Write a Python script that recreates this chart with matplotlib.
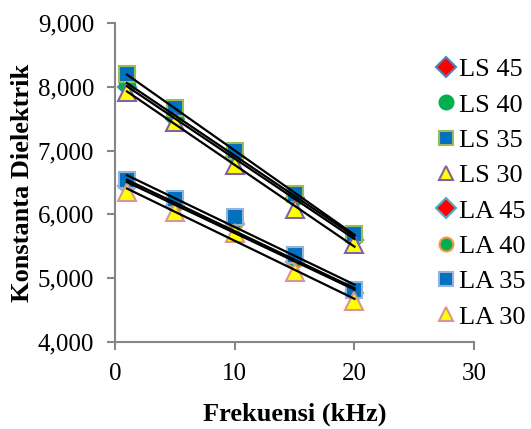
import numpy as np
import matplotlib
matplotlib.use('Agg')
import matplotlib.pyplot as plt
from matplotlib.ticker import FuncFormatter

plt.rcParams['font.family'] = ['Liberation Serif', 'DejaVu Serif']

# Data
freq = [1, 5, 10, 15, 20]
labels = ['LS 45', 'LS 40', 'LS 35', 'LS 30', 'LA 45', 'LA 40', 'LA 35', 'LA 30']
ls45 = [8000, 7500, 6900, 6250, 5600]
ls40 = [8050, 7550, 6950, 6280, 5650]
ls35 = [8200, 7670, 6990, 6320, 5700]
ls30 = [7920, 7450, 6770, 6080, 5530]
la45 = [6450, 6130, 5850, 5260, 4760]
la40 = [6480, 6170, 5880, 5290, 4780]
la35 = [6540, 6240, 5960, 5360, 4820]
la30 = [6350, 6040, 5710, 5100, 4640]
series = [ls45, ls40, ls35, ls30, la45, la40, la35, la30]

# marker, fill, edge, size
styles = [
    ('D', '#FF0000', '#4F81BD', 9),
    ('o', '#00B050', '#00B050', 11),
    ('s', '#0070C0', '#9BBB59', 12),
    ('^', '#FFFF00', '#8064A2', 13),
    ('D', '#FF0000', '#4BACC6', 9),
    ('o', '#00B050', '#F79646', 11),
    ('s', '#0070C0', '#95B3D7', 12),
    ('^', '#FFFF00', '#D99694', 13),
]

fig = plt.figure(figsize=(5.31, 4.29), dpi=100)
ax = fig.add_axes([0.2166, 0.203, 0.6765, 0.743])

handles = []
for vals, lab, (m, fc, ec, ms) in zip(series, labels, styles):
    h, = ax.plot(freq, vals, linestyle='none', marker=m, markersize=ms,
                 markerfacecolor=fc, markeredgecolor=ec, markeredgewidth=1.5,
                 label=lab, zorder=2)
    handles.append(h)

# linear trendlines
x = np.array(freq)
for vals in series:
    k, b = np.polyfit(x, vals, 1)
    ax.plot([1, 20], [k * 1 + b, k * 20 + b], color='black', lw=1.6, zorder=3)

ax.set_xlim(0, 30)
ax.set_ylim(4000, 9000)
ax.set_xticks([0, 10, 20, 30])
ax.set_yticks(range(4000, 9001, 1000))
ax.yaxis.set_major_formatter(FuncFormatter(lambda v, p: f'{int(v):,}'))
ax.tick_params(labelsize=18, direction='out', length=6, width=1.5, color='#868686', pad=9)

for s in ['top', 'right']:
    ax.spines[s].set_visible(False)
for s in ['left', 'bottom']:
    ax.spines[s].set_color('#868686')
    ax.spines[s].set_linewidth(1.5)

ax.set_xlabel('Frekuensi (kHz)', fontsize=19, fontweight='bold', labelpad=13)
ax.set_ylabel('Konstanta Dielektrik', fontsize=19, fontweight='bold', labelpad=3)

leg = fig.legend(handles=handles, loc='upper left', bbox_to_anchor=(0.808, 0.89),
                 frameon=False, fontsize=19, handlelength=0.5, handletextpad=0.25,
                 labelspacing=0.45, borderaxespad=0)
for h in leg.legend_handles:
    h.set_markersize(10)

fig.savefig('out.png', dpi=100)
